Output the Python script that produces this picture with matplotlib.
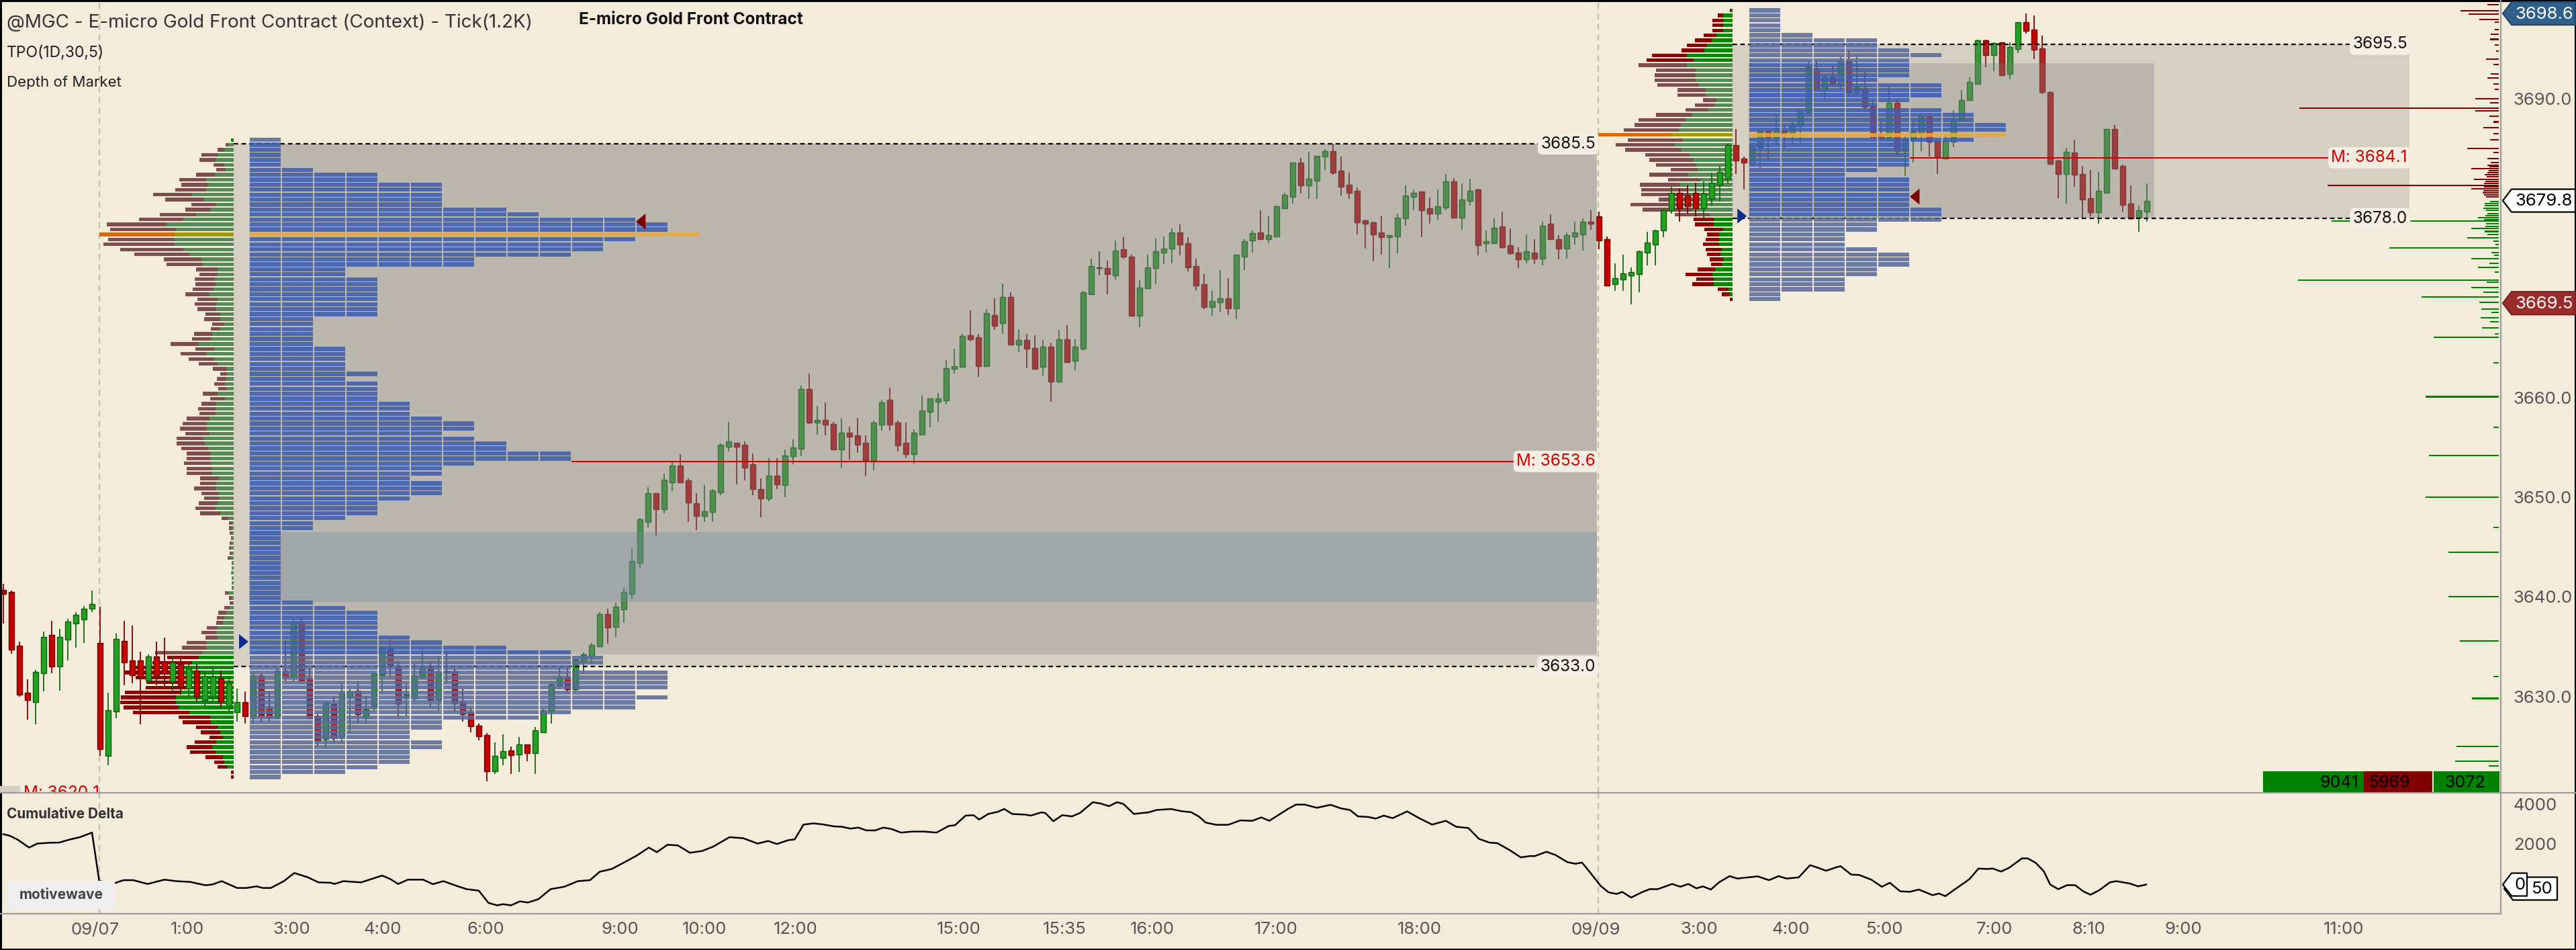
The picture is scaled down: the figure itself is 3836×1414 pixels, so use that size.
import numpy as np
import matplotlib
matplotlib.use("Agg")
import matplotlib.pyplot as plt
from matplotlib.patches import Rectangle, Polygon

plt.rcParams['font.family'] = ['Inter', 'DejaVu Sans']

# ======================= DATA =======================
opens = [3640.7, 3640.5, 3635.1, 3630.4, 3629.4, 3632.3, 3636.2, 3633.0, 3635.7, 3637.3,
         3637.7, 3638.8, 3635.4, 3624.0, 3628.5, 3635.6, 3633.6, 3633.6, 3631.6, 3634.0,
         3633.5, 3631.5, 3633.2, 3630.8, 3632.6, 3629.6, 3630.0, 3631.8, 3629.0, 3628.4,
         3629.4, 3628.0, 3632.1, 3628.9, 3627.9, 3632.6, 3631.9, 3637.4, 3631.8, 3628.0,
         3625.7, 3629.3, 3625.9, 3630.0, 3630.6, 3627.9, 3628.9, 3632.2, 3634.9, 3633.1,
         3629.9, 3629.8, 3631.9, 3633.1, 3629.6, 3632.5, 3632.5, 3629.5, 3628.4, 3627.1,
         3626.1, 3622.5, 3623.8, 3624.6, 3624.2, 3625.2, 3624.3, 3626.4, 3628.5, 3631.1,
         3631.9, 3630.7, 3633.5, 3634.0, 3635.0, 3638.3, 3637.0, 3638.75, 3640.3, 3643.4,
         3647.5, 3650.4, 3648.8, 3651.5, 3653.2, 3651.7, 3649.4, 3648.1, 3648.5, 3650.5,
         3655.1, 3655.5, 3655.3, 3653.3, 3650.8, 3649.9, 3652.2, 3651.2, 3654.1, 3654.85,
         3660.9, 3657.5, 3657.8, 3657.4, 3654.8, 3656.5, 3656.2, 3655.5, 3653.7, 3657.3,
         3659.8, 3657.5, 3655.5, 3654.3, 3656.3, 3658.6, 3659.6, 3659.7, 3662.9, 3663.1,
         3666.3, 3666.1, 3663.2, 3668.3, 3667.5, 3670.1, 3665.3, 3665.8, 3665.0, 3663.1,
         3665.1, 3661.6, 3665.9, 3663.7, 3664.9, 3670.4, 3673.1, 3673.0, 3672.3, 3674.9,
         3674.2, 3668.2, 3671.0, 3673.0, 3674.6, 3675.0, 3676.6, 3675.5, 3673.2, 3671.4,
         3669.1, 3669.6, 3670.0, 3669.0, 3674.2, 3675.8, 3676.6, 3675.9, 3676.2, 3679.0,
         3680.2, 3683.6, 3681.3, 3681.8, 3684.2, 3684.8, 3682.8, 3681.4, 3680.8, 3677.8,
         3677.6, 3676.6, 3676.1, 3676.2, 3678.0, 3680.2, 3680.7, 3679.0, 3678.5, 3679.1,
         3681.7, 3678.1, 3679.8, 3680.9, 3675.5, 3675.5, 3677.2, 3675.3, 3674.6, 3673.9,
         3674.6, 3674.0, 3677.5, 3675.9, 3675.0, 3676.2, 3676.4, 3677.7, 3678.2, 3675.9,
         3671.4, 3671.9, 3672.3, 3672.4, 3674.6, 3675.4, 3676.8, 3678.8, 3680.6, 3680.3,
         3680.6, 3679.0, 3680.0, 3681.4, 3682.0, 3685.4, 3684.05, 3683.5, 3685.2, 3686.7,
         3686.2, 3686.8, 3686.6, 3687.25, 3688.7, 3693.1, 3690.9, 3692.2, 3691.45, 3693.9,
         3690.7, 3691.1, 3689.3, 3686.5, 3686.2, 3689.6, 3684.8, 3686.0, 3686.5, 3688.3,
         3685.8, 3684.0, 3685.7, 3687.85, 3689.9, 3691.5, 3695.9, 3694.4, 3695.7, 3692.5,
         3695.05, 3697.7, 3697.0, 3695.1, 3690.7, 3683.8, 3682.5, 3684.6, 3682.5, 3680.05,
         3678.6, 3680.6, 3687.0, 3683.3, 3679.5, 3678.1, 3678.7]
highs = [3641.3, 3640.6, 3635.5, 3631.7, 3632.7, 3636.5, 3637.6, 3636.8, 3637.8, 3638.5,
         3639.1, 3640.6, 3639.0, 3630.4, 3636.3, 3637.6, 3637.1, 3634.5, 3634.2, 3635.5,
         3635.9, 3634.0, 3633.8, 3633.5, 3633.2, 3632.6, 3633.0, 3632.6, 3632.0, 3630.8,
         3630.5, 3632.5, 3632.3, 3630.6, 3632.9, 3635.6, 3637.9, 3637.9, 3632.9, 3628.2,
         3629.5, 3630.1, 3631.4, 3630.7, 3631.6, 3630.1, 3632.5, 3635.0, 3635.8, 3633.6,
         3631.3, 3633.5, 3634.8, 3633.6, 3634.1, 3634.6, 3632.8, 3630.8, 3628.9, 3627.3,
         3626.3, 3625.4, 3626.2, 3625.0, 3625.9, 3625.2, 3626.9, 3628.7, 3631.3, 3633.0,
         3633.0, 3633.9, 3634.4, 3635.4, 3638.5, 3638.8, 3639.4, 3640.9, 3644.9, 3647.9,
         3651.0, 3650.4, 3652.4, 3653.6, 3654.3, 3651.9, 3650.4, 3651.2, 3650.8, 3655.4,
         3657.6, 3655.5, 3655.6, 3654.4, 3651.9, 3653.9, 3653.9, 3654.8, 3655.8, 3661.2,
         3662.4, 3659.2, 3659.5, 3657.6, 3657.9, 3657.1, 3658.0, 3656.2, 3657.7, 3659.8,
         3661.0, 3657.7, 3657.5, 3656.8, 3660.2, 3659.9, 3660.5, 3663.8, 3664.9, 3666.4,
         3668.8, 3666.4, 3668.9, 3670.0, 3671.5, 3670.6, 3666.9, 3666.4, 3666.3, 3665.8,
         3665.5, 3666.8, 3667.3, 3665.9, 3670.7, 3674.0, 3674.7, 3673.8, 3675.8, 3676.1,
         3674.4, 3671.8, 3674.4, 3676.0, 3676.2, 3677.0, 3677.4, 3676.1, 3674.0, 3672.4,
         3670.7, 3672.8, 3672.0, 3674.4, 3675.9, 3676.8, 3678.8, 3678.3, 3679.3, 3680.6,
         3683.6, 3684.1, 3684.7, 3684.3, 3685.0, 3685.5, 3684.2, 3682.6, 3681.1, 3677.9,
         3677.7, 3678.3, 3676.3, 3678.5, 3681.3, 3680.9, 3680.7, 3680.1, 3680.9, 3682.5,
         3682.1, 3681.5, 3682.0, 3681.0, 3676.8, 3678.0, 3678.7, 3677.0, 3675.1, 3676.4,
         3675.9, 3677.7, 3678.4, 3676.3, 3676.6, 3677.7, 3678.0, 3678.8, 3678.7, 3676.2,
         3673.5, 3674.4, 3673.1, 3674.8, 3676.7, 3676.9, 3678.9, 3681.2, 3681.0, 3681.3,
         3681.6, 3681.7, 3682.6, 3683.3, 3685.6, 3687.0, 3684.2, 3685.6, 3687.0, 3686.9,
         3688.5, 3687.5, 3687.7, 3689.0, 3693.9, 3693.9, 3692.4, 3693.4, 3694.2, 3694.9,
         3694.2, 3692.9, 3689.9, 3687.7, 3691.4, 3690.0, 3686.3, 3687.7, 3688.6, 3688.6,
         3686.0, 3686.5, 3688.9, 3690.9, 3692.2, 3696.0, 3695.95, 3695.7, 3695.7, 3695.7,
         3697.7, 3698.6, 3698.4, 3696.4, 3690.8, 3683.9, 3685.1, 3685.9, 3683.3, 3682.9,
         3682.7, 3687.0, 3687.4, 3683.4, 3681.3, 3679.3, 3681.5]
lows = [3637.3, 3634.3, 3630.0, 3627.7, 3627.2, 3630.5, 3632.3, 3630.6, 3633.6, 3634.9,
        3635.4, 3638.5, 3624.0, 3623.1, 3627.8, 3631.1, 3631.3, 3627.2, 3631.3, 3631.1,
        3631.0, 3630.5, 3630.2, 3630.0, 3629.5, 3629.0, 3629.5, 3628.8, 3628.5, 3627.5,
        3627.3, 3627.2, 3627.4, 3627.5, 3627.7, 3631.6, 3631.6, 3631.3, 3627.7, 3625.0,
        3624.7, 3625.3, 3625.3, 3626.4, 3627.3, 3627.2, 3628.6, 3630.3, 3631.9, 3627.7,
        3628.0, 3629.5, 3631.8, 3628.9, 3628.6, 3631.4, 3628.4, 3627.5, 3626.4, 3625.6,
        3621.5, 3622.2, 3623.1, 3622.2, 3622.4, 3623.5, 3622.2, 3626.3, 3627.3, 3630.8,
        3630.4, 3630.5, 3632.3, 3633.2, 3635.0, 3635.3, 3636.0, 3637.4, 3639.8, 3642.9,
        3647.0, 3646.1, 3648.4, 3650.6, 3651.5, 3647.5, 3646.7, 3647.5, 3647.6, 3650.2,
        3654.6, 3651.3, 3651.7, 3650.2, 3648.0, 3649.6, 3650.8, 3650.0, 3653.3, 3654.1,
        3657.4, 3656.3, 3656.2, 3654.8, 3652.9, 3653.8, 3654.5, 3652.1, 3652.7, 3656.7,
        3656.7, 3654.6, 3653.9, 3653.4, 3656.3, 3657.0, 3657.6, 3659.3, 3662.4, 3663.1,
        3665.7, 3662.1, 3663.2, 3666.8, 3666.4, 3665.3, 3664.6, 3663.0, 3662.9, 3662.2,
        3659.6, 3661.5, 3663.6, 3662.8, 3664.7, 3670.4, 3672.3, 3670.4, 3671.9, 3674.0,
        3668.2, 3667.1, 3671.0, 3671.4, 3673.4, 3673.5, 3674.3, 3672.7, 3670.8, 3668.9,
        3668.2, 3668.6, 3668.3, 3667.9, 3672.8, 3674.6, 3675.9, 3675.5, 3676.2, 3679.0,
        3679.5, 3680.5, 3680.0, 3680.0, 3682.9, 3682.4, 3680.3, 3680.0, 3676.4, 3675.0,
        3673.7, 3674.4, 3673.0, 3674.5, 3677.3, 3678.8, 3676.1, 3677.5, 3677.9, 3678.8,
        3678.1, 3676.9, 3679.3, 3674.3, 3674.6, 3675.5, 3675.0, 3674.4, 3673.0, 3673.5,
        3673.4, 3673.3, 3675.9, 3673.9, 3674.0, 3675.4, 3674.8, 3676.9, 3674.9, 3671.2,
        3670.7, 3670.7, 3669.4, 3670.6, 3673.3, 3673.3, 3676.1, 3678.5, 3677.7, 3678.5,
        3678.2, 3678.0, 3679.3, 3679.7, 3681.5, 3682.5, 3680.9, 3683.2, 3683.1, 3683.8,
        3685.3, 3685.1, 3685.4, 3685.6, 3688.7, 3690.9, 3690.05, 3691.4, 3691.0, 3690.3,
        3690.4, 3688.8, 3686.2, 3685.9, 3686.0, 3684.2, 3682.3, 3683.6, 3684.8, 3684.2,
        3682.5, 3684.0, 3685.2, 3687.8, 3689.8, 3691.5, 3693.2, 3692.8, 3692.3, 3692.0,
        3694.6, 3696.6, 3694.0, 3690.5, 3683.4, 3680.05, 3679.5, 3681.2, 3678.1, 3678.2,
        3677.5, 3680.5, 3683.0, 3678.7, 3677.9, 3676.7, 3677.7]
closes = [3640.3, 3634.7, 3630.2, 3629.6, 3632.5, 3636.0, 3633.0, 3636.0, 3637.5, 3638.2,
          3638.8, 3639.3, 3624.7, 3628.6, 3635.8, 3633.4, 3632.1, 3632.0, 3634.0, 3632.1,
          3632.3, 3633.4, 3631.0, 3632.8, 3630.0, 3632.0, 3632.0, 3629.5, 3631.3, 3629.4,
          3628.0, 3632.1, 3628.0, 3627.9, 3632.6, 3631.9, 3637.4, 3631.6, 3627.8, 3625.6,
          3629.4, 3625.8, 3630.4, 3630.5, 3628.2, 3628.7, 3632.3, 3634.9, 3633.1, 3629.2,
          3630.2, 3632.1, 3633.1, 3629.6, 3632.5, 3632.4, 3629.3, 3628.2, 3627.0, 3626.0,
          3622.5, 3624.0, 3624.5, 3624.1, 3625.2, 3624.3, 3626.6, 3628.6, 3631.2, 3631.9,
          3630.7, 3633.7, 3634.2, 3635.2, 3638.3, 3636.9, 3639.0, 3640.5, 3643.6, 3647.8,
          3650.4, 3648.8, 3651.8, 3653.2, 3651.5, 3649.5, 3648.1, 3648.6, 3650.7, 3655.3,
          3655.6, 3655.1, 3653.0, 3650.8, 3649.9, 3652.2, 3651.3, 3654.2, 3655.0, 3660.9,
          3657.5, 3657.8, 3657.3, 3654.8, 3656.5, 3656.1, 3655.3, 3653.7, 3657.5, 3659.5,
          3657.3, 3655.2, 3654.3, 3656.5, 3658.7, 3659.9, 3659.9, 3663.0, 3663.2, 3666.2,
          3665.9, 3663.2, 3668.5, 3667.2, 3670.1, 3665.3, 3665.8, 3664.9, 3662.9, 3665.1,
          3661.6, 3665.9, 3663.6, 3665.1, 3670.6, 3673.2, 3673.0, 3672.4, 3674.8, 3674.15,
          3668.2, 3671.1, 3673.1, 3674.7, 3675.0, 3676.6, 3675.4, 3673.1, 3671.3, 3669.1,
          3669.7, 3670.0, 3669.0, 3674.4, 3675.7, 3676.5, 3675.9, 3676.3, 3679.2, 3680.4,
          3683.6, 3681.3, 3682.0, 3684.3, 3684.8, 3682.6, 3681.2, 3680.6, 3677.6, 3677.5,
          3676.4, 3676.1, 3676.3, 3678.1, 3680.3, 3680.6, 3678.8, 3678.5, 3679.2, 3681.7,
          3678.1, 3679.9, 3680.8, 3675.3, 3675.7, 3677.1, 3675.1, 3674.5, 3673.9, 3674.7,
          3674.0, 3677.3, 3675.9, 3675.0, 3676.3, 3676.6, 3677.7, 3677.5, 3675.8, 3671.3,
          3672.0, 3672.5, 3672.6, 3674.7, 3675.6, 3676.8, 3678.8, 3680.6, 3679.0, 3679.2,
          3679.0, 3680.5, 3681.6, 3682.7, 3685.4, 3683.8, 3683.6, 3685.3, 3686.7, 3686.2,
          3686.8, 3686.6, 3687.4, 3688.8, 3693.2, 3690.9, 3692.2, 3691.45, 3693.9, 3690.7,
          3691.2, 3689.2, 3686.2, 3686.1, 3689.6, 3684.8, 3686.0, 3686.7, 3688.3, 3685.7,
          3684.2, 3685.8, 3688.0, 3689.9, 3691.7, 3695.9, 3694.4, 3695.6, 3692.4, 3695.2,
          3697.7, 3696.85, 3694.96, 3690.7, 3683.5, 3682.5, 3684.7, 3682.4, 3679.9, 3678.6,
          3680.8, 3687.0, 3683.0, 3679.4, 3678.0, 3678.8, 3679.8]
doji_bars = [55, 136]

# session 1 (09/07) profile rows, from the top row downwards, one row per 0.5
s1_top_row = 3685.9
s1_tpo = [1, 1, 1, 1, 1, 1, 2, 4, 4, 6, 6, 6, 6, 6, 8, 9, 12, 13, 13, 14,
          12, 11, 11, 10, 7, 7, 3, 3, 4, 4, 4, 4, 4,
          4, 4, 4, 2, 2, 2, 2, 2, 2, 3, 3, 3, 3, 3, 4, 3, 4, 4, 4, 4,
          5, 5, 5, 6, 7, 7, 6, 7, 8, 8, 10, 10, 7, 6, 6, 5, 6, 6, 6, 5,
          4, 4, 4, 3, 2, 2, 1, 1, 1, 1,
          1, 1, 1, 1, 1, 1, 1, 1, 1, 1, 2, 3, 4, 4, 4, 4, 4, 5, 6, 8,
          10, 11, 11, 10, 13, 13, 13, 13, 12, 13, 12, 12, 10, 9, 6, 6, 5, 5, 6, 6,
          5, 5, 5, 4, 3, 1]
s1_ask_vol = [4, 8, 14, 24, 27, 14, 12, 28, 41, 38, 41, 62, 44, 27, 34, 56, 75, 100, 86, 88,
              88, 88, 75, 66, 48, 46, 24, 24, 28, 27, 30, 36, 24,
              26, 26, 20, 20, 14, 20, 32, 34, 52, 29, 41, 29, 24, 11, 10, 11, 13, 11, 24, 13,
              26, 27, 27, 36, 40, 40, 36, 45, 43, 38, 34, 34, 34, 32, 32, 22, 26, 27, 22, 22,
              24, 27, 20, 8, 3, 3, 3, 3, 3, 4,
              3, 4, 3, 3, 4, 3, 3, 3, 8, 3, 1, 6, 11, 14, 16, 24, 26, 24, 40, 41,
              47, 52, 62, 78, 84, 71, 64, 67, 78, 86, 86, 82, 66, 35, 34, 24, 20, 16, 26, 32,
              27, 16, 14, 10, 0, 0]
s1_bid_vol = [0, 4, 10, 24, 24, 16, 14, 28, 40, 40, 46, 58, 58, 36, 38, 54, 66, 89, 98, 112,
              99, 106, 94, 82, 56, 54, 32, 27, 30, 30, 31, 36, 30,
              32, 28, 22, 24, 18, 14, 27, 28, 42, 28, 38, 38, 28, 20, 10, 14, 16, 12, 22, 22,
              22, 26, 24, 34, 36, 40, 36, 40, 42, 40, 36, 36, 40, 38, 38, 28, 24, 32, 26, 22,
              28, 30, 30, 10, 4, 4, 3, 1, 3, 3,
              3, 5, 0, 0, 0, 0, 0, 0, 5, 4, 5, 8, 12, 11, 10, 16, 22, 18, 30, 36,
              70, 47, 59, 71, 78, 75, 66, 64, 84, 82, 83, 82, 84, 47, 42, 32, 29, 20, 32, 38,
              38, 26, 15, 14, 4, 4]

# session 2 (09/09) profile rows
s2_top_row = 3698.9
s2_tpo = [1, 1, 1, 1, 1, 2, 4, 4, 5, 6, 5, 5, 5, 5, 4, 6, 6, 6, 5, 4,
          6, 7, 7, 8, 8, 8, 7, 5, 5, 5, 5, 5, 4, 3, 5, 5, 5, 5, 5, 5,
          6, 6, 6, 4, 4, 3, 3, 3, 4, 5, 5, 5, 4, 4, 3, 3, 3, 1, 1]
s2_ask_vol = [2, 14, 14, 14, 14, 24, 31, 38, 42, 68, 58, 68, 55, 55, 55, 50, 40, 40, 24, 26,
              36, 60, 70, 77, 80, 90, 74, 86, 76, 64, 58, 54, 52, 66, 48, 78, 66, 62, 50, 74,
              60, 34, 28, 28, 14, 20, 20, 20, 16, 18, 14, 16, 26, 30, 28, 28, 6, 4, 0]
s2_bid_vol = [2, 8, 16, 16, 16, 19, 25, 30, 34, 52, 70, 72, 59, 61, 61, 62, 42, 42, 20, 30,
              34, 54, 70, 69, 82, 110, 82, 88, 84, 66, 66, 60, 40, 58, 48, 60, 70, 74, 60, 78,
              74, 52, 30, 28, 28, 18, 20, 24, 24, 20, 20, 16, 26, 40, 26, 32, 16, 12, 4]

# value areas / levels
s1_value_area = (3634.2, 3685.5)
s2_value_area = (3678.1, 3693.6)
s1_band = (3639.5, 3646.5)
s1_range_lines = (3685.5, 3633.0)
s2_range_lines = (3695.5, 3678.0)
s1_mid = 3653.6
s2_mid = 3684.1
s1_open_mark, s1_close_mark = 3635.5, 3677.7
s2_open_mark, s2_close_mark = 3678.25, 3680.2
session_breaks = [11.95, 197.9]

# depth of market (price, size)
dom_asks = [(3699.9, 191), (3699.5, 17), (3698.9, 57), (3698.55, 45), (3698.0, 29), (3697.7, 6),
            (3697.0, 6), (3696.5, 12), (3696.0, 13), (3695.45, 6), (3694.8, 4), (3694.0, 19),
            (3693.45, 8), (3692.5, 12), (3692.1, 17), (3691.5, 8), (3691.0, 6), (3690.05, 35),
            (3689.65, 13), (3689.1, 297), (3688.8, 35), (3688.25, 14), (3687.7, 8), (3687.1, 23),
            (3686.5, 8), (3685.9, 13), (3685.05, 47), (3684.65, 8), (3684.0, 17), (3683.6, 12),
            (3683.35, 17), (3683.2, 14), (3683.0, 41), (3682.8, 15), (3682.6, 17), (3682.4, 21),
            (3682.2, 18), (3681.95, 37), (3681.7, 20), (3681.5, 22), (3681.3, 255), (3681.2, 22),
            (3681.0, 41), (3680.8, 23), (3680.6, 24), (3680.4, 22), (3680.2, 19)]
dom_bids = [(3679.7, 13), (3679.5, 21), (3679.3, 21), (3679.0, 23), (3678.8, 19), (3678.5, 17),
            (3678.3, 20), (3678.1, 31), (3677.9, 22), (3677.75, 249), (3677.5, 19), (3677.2, 20),
            (3677.0, 41), (3676.7, 21), (3676.4, 17), (3676.05, 47), (3675.7, 8), (3675.4, 5),
            (3675.05, 163), (3674.6, 11), (3674.3, 7), (3673.95, 41), (3673.5, 14), (3673.1, 31),
            (3672.6, 6), (3671.8, 299), (3671.6, 18), (3671.05, 41), (3670.6, 23), (3670.1, 115),
            (3669.6, 29), (3668.9, 26), (3668.6, 11), (3668.05, 27), (3667.6, 13), (3667.0, 25),
            (3666.4, 6), (3666.1, 97), (3663.5, 8), (3660.1, 109), (3657.0, 8), (3654.2, 104),
            (3650.0, 109), (3647.0, 8), (3644.5, 75), (3640.0, 75), (3635.6, 58), (3632.0, 8),
            (3629.8, 40), (3625.0, 63), (3623.5, 65), (3623.0, 15)]

# cumulative delta (bar position, value)
delta_curve = [(0, 2500), (0.8, 2420), (1.8, 2220), (3.2, 1830), (4.2, 2030), (5.7, 2070),
    (6.9, 2080), (8.3, 2240), (9.5, 2350), (11.0, 2580), (11.9, 150), (13.9, 60), (14.9, 200),
    (16.1, 200), (17.9, 10), (20.0, 225), (21.5, 150), (23.2, 110), (25.1, -55), (25.9, -20),
    (27.1, 150), (29.0, -190), (30.2, -190), (31.4, -110), (32.2, -190), (33.2, -190),
    (34.8, 150), (36.1, 560), (37.8, 340), (39.1, 90), (40.6, 70), (41.1, 10), (42.2, 150),
    (43.2, 120), (44.4, 90), (45.7, 260), (47.0, 430), (48.0, 260), (49.0, 10), (50.2, 225),
    (52.1, 225), (53.3, 0), (54.6, 150), (56.2, -80), (57.5, -250), (59.0, -325), (60.2, -940),
    (61.3, -1060), (62.0, -1000), (63.0, -1060), (64.1, -860), (65.1, -920), (66.4, -750),
    (67.9, -250), (69.6, -130), (71.3, 150), (72.8, 200), (74.0, 620), (75.5, 760),
    (77.1, 1100), (78.6, 1430), (80.1, 1830), (81.1, 1600), (82.4, 1970), (83.7, 1940),
    (85.2, 1570), (86.7, 1660), (88.1, 1880), (90.1, 2350), (91.8, 2300), (93.6, 2030),
    (94.9, 2160), (96.0, 2010), (97.4, 2200), (98.2, 2240), (99.3, 2980), (100.5, 3040),
    (101.5, 3000), (103.1, 2890), (104.1, 2870), (105.1, 2780), (106.1, 2830), (107.1, 2690),
    (108.2, 2690), (109.2, 2830), (110.2, 2760), (111.4, 2580), (112.7, 2630), (114.3, 2630),
    (115.8, 2580), (117.3, 2910), (118.1, 2950), (119.4, 3430), (120.4, 3450), (121.1, 3230),
    (122.2, 3510), (123.4, 3620), (124.2, 3760), (125.2, 3510), (126.8, 3480), (127.5, 3430),
    (128.8, 3590), (129.3, 3560), (130.3, 3150), (131.4, 3450), (132.6, 3390), (133.6, 3560),
    (135.2, 4100), (136.2, 4030), (137.2, 3900), (138.2, 4100), (139.0, 4010), (140.3, 3510),
    (141.3, 3560), (142.1, 3590), (143.1, 3710), (144.9, 3760), (146.2, 3650), (147.4, 3600),
    (148.4, 3370), (149.2, 3080), (150.5, 2970), (152.0, 2970), (153.5, 3190), (155.0, 3170),
    (156.1, 3340), (157.1, 3170), (159.4, 3760), (160.4, 3980), (161.5, 3980), (163.0, 3820),
    (164.7, 3970), (166.0, 3790), (167.1, 3710), (168.1, 3390), (169.4, 3360), (170.3, 3280),
    (171.3, 3430), (172.4, 3300), (174.2, 3640), (175.7, 3300), (177.3, 2980), (179.0, 3170),
    (180.3, 2870), (181.8, 2810), (183.1, 2270), (184.4, 2080), (185.4, 2050), (186.9, 1710),
    (188.3, 1340), (189.5, 1410), (190.0, 1400), (191.5, 1620), (192.6, 1460), (194.1, 1100),
    (195.1, 1020), (195.9, 1080), (196.9, 590), (198.2, -80), (199.2, -410), (200.2, -490),
    (200.9, -390), (202.0, -670), (203.3, -410), (204.3, -250), (205.3, -250), (207.1, 10),
    (208.1, -130), (209.1, 10), (210.1, -210), (210.9, -110), (211.9, -270), (212.9, 90),
    (214.2, 400), (215.2, 280), (216.5, 340), (217.7, 390), (219.1, 200), (220.3, 400),
    (221.3, 280), (222.8, 340), (224.2, 950), (225.2, 820), (226.2, 670), (227.5, 850),
    (228.0, 900), (229.3, 480), (230.3, 460), (231.8, 225), (233.1, -130), (234.1, 70),
    (235.4, -360), (236.6, -380), (237.7, -270), (239.4, -550), (240.2, -470), (241.0, -600),
    (242.2, -250), (243.5, 110), (244.0, 260), (245.1, 780), (246.1, 760), (246.9, 780),
    (247.9, 630), (248.9, 820), (250.5, 1290), (251.2, 1290), (252.2, 1070), (253.2, 650),
    (254.0, -20), (255.0, -250), (256.1, -50), (257.1, -50), (258.1, -360), (259.0, -530),
    (260.1, -300), (261.4, 90), (262.2, 150), (263.9, 30), (264.9, -110), (265.9, -20)]

time_tick_pos = [11.4, 22.8, 35.8, 47.1, 59.9, 76.5, 87.0, 98.3, 118.6, 131.7, 142.6,
                 157.9, 175.7, 197.6, 210.4, 221.8, 233.5, 247.1, 258.8, 270.5, 290.4]
time_tick_labels = ['09/07', '1:00', '3:00', '4:00', '6:00', '9:00', '10:00', '12:00',
                    '15:00', '15:35', '16:00', '17:00', '18:00', '09/09', '3:00', '4:00',
                    '5:00', '7:00', '8:10', '9:00', '11:00']
price_ticks = [3630, 3640, 3650, 3660, 3690]
delta_ticks = [2000, 4000]
last_price, session_high, session_low = 3679.8, 3698.6, 3669.5
delta_tag_texts = ['0', '50']
footprint_totals = [9041, 5969, 3072]

# ======================= LAYOUT =======================
W, H = 3836, 1414
DPI = 100
BG = '#f4ecda'
def px2i(px):           # horizontal pixel -> bar position
    return (px - 5) / 12.0

fig = plt.figure(figsize=(W / DPI, H / DPI), dpi=DPI)
fig.patch.set_facecolor(BG)

def axes_px(x0, y0, x1, y1):
    return [x0 / W, 1 - y1 / H, (x1 - x0) / W, (y1 - y0) / H]

ax = fig.add_axes(axes_px(0, 0, 3724, 1180))
axd = fig.add_axes(axes_px(0, 1180, 3724, 1360))
for a in (ax, axd):
    a.set_facecolor(BG)
    a.set_xlim(px2i(0), px2i(3724))
    for s in a.spines.values():
        s.set_visible(False)
ax.set_ylim(3620.32, 3699.95)
axd.set_ylim(-1479, 4571)

# session separators
for a in (ax, axd):
    for b in session_breaks:
        a.axvline(b, color='#c6bfb3', lw=1.6, ls=(0, (4, 3)), zorder=0.5)

# ---------- candles ----------
o = np.array(opens); h = np.array(highs); l = np.array(lows); c = np.array(closes)
xs = np.arange(len(o))
fill, edge, wick = [], [], []
for i in xs:
    if i in doji_bars:
        fill.append('#2b2b2b'); edge.append('#1a1a1a'); wick.append('#2b2b2b')
    elif c[i] >= o[i]:
        fill.append('#21a321'); edge.append('#0d5e0d'); wick.append('#0f6a0f')
    else:
        fill.append('#c60000'); edge.append('#6e0000'); wick.append('#7a0000')
ax.vlines(xs, l, h, colors=wick, lw=1.3, zorder=2)
body_lo = np.minimum(o, c)
body_h = np.maximum(np.abs(c - o), 0.12)
ax.bar(xs, body_h, bottom=body_lo, width=0.66, color=fill, edgecolor=edge, linewidth=1.0, zorder=2.1)

# ---------- session boxes (semi transparent overlays) ----------
def shade(x0, x1, y0, y1, color, alpha, z=3):
    ax.add_patch(Rectangle((x0, y0), x1 - x0, y1 - y0, facecolor=color, alpha=alpha, lw=0, zorder=z))

S1_VOL_R, S1_TPO_X = px2i(348), px2i(371)
S2_VOL_R, S2_TPO_X = px2i(2580), px2i(2604)
S1_END = px2i(2378)
S2_VA_END, S2_BOX_END = px2i(3208), px2i(3588)
COL = 4.0

shade(S1_VOL_R, S1_END, s1_range_lines[1], s1_range_lines[0], '#808080', 0.26)
shade(S1_TPO_X, S1_END, s1_value_area[0], s1_value_area[1], '#808080', 0.30)
shade(S1_TPO_X, S1_END, s1_band[0], s1_band[1], '#6f8a9f', 0.35)
shade(S2_VOL_R, S2_BOX_END, s2_range_lines[1], s2_range_lines[0], '#808080', 0.26)
shade(S2_TPO_X, S2_VA_END, s2_value_area[0], s2_value_area[1], '#808080', 0.30)

# ---------- TPO and volume profiles ----------
def profile(top, tpo, ask, bid, x_tpo, x_vol_r, va):
    tot = np.array(ask) + np.array(bid)
    poc = int(np.argmax(tot))
    for k, n in enumerate(tpo):
        y = top - 0.5 * k
        inside = va[0] <= y <= va[1] + 0.15
        if k == poc:
            col = '#e9a93c'
        elif inside:
            col = '#3f5fae'
        else:
            col = '#5a6b9c'
        for j in range(n):
            ax.add_patch(Rectangle((x_tpo + COL * j + 0.1, y - 0.21), COL - 0.2, 0.42,
                                   facecolor=col, alpha=0.88, lw=0, zorder=4))
        g, r = ask[k] / 12.0, bid[k] / 12.0
        if k == poc:
            cg, cr = '#a39a00', '#d46a08'
        elif inside:
            cg, cr = '#568a56', '#7e4e4e'
        else:
            cg, cr = '#008a00', '#8b0000'
        if g > 0:
            ax.add_patch(Rectangle((x_vol_r - g, y - 0.18), g, 0.36, facecolor=cg, lw=0, zorder=1.5))
        if r > 0:
            ax.add_patch(Rectangle((x_vol_r - g - r, y - 0.18), r, 0.36, facecolor=cr, lw=0, zorder=1.5))
    return poc

profile(s1_top_row, s1_tpo, s1_ask_vol, s1_bid_vol, S1_TPO_X, S1_VOL_R, s1_value_area)
profile(s2_top_row, s2_tpo, s2_ask_vol, s2_bid_vol, S2_TPO_X, S2_VOL_R, s2_value_area)

def tpo_end(top, tpo, x_tpo, price, mode='max'):
    k = (top - price) / 0.5
    if mode == 'max':
        n = max(tpo[int(np.floor(k))], tpo[int(np.ceil(k))])
    else:
        n = tpo[int(round(k))]
    return x_tpo + COL * n

# open / close markers
def open_mark(x_tip, y):
    ax.add_patch(Polygon([(x_tip - 1.15, y + 0.75), (x_tip, y), (x_tip - 1.15, y - 0.75)],
                         closed=True, facecolor='#0a2a8c', lw=0, zorder=5))
def close_mark(x_tip, y):
    ax.add_patch(Polygon([(x_tip + 1.2, y + 0.8), (x_tip, y), (x_tip + 1.2, y - 0.8)],
                         closed=True, facecolor='#7c0000', lw=0, zorder=5))
open_mark(S1_TPO_X - 0.1, s1_open_mark)
open_mark(S2_TPO_X - 0.25, s2_open_mark)
close_mark(tpo_end(s1_top_row, s1_tpo, S1_TPO_X, s1_close_mark, 'near'), s1_close_mark)
close_mark(tpo_end(s2_top_row, s2_tpo, S2_TPO_X, s2_close_mark, 'near'), s2_close_mark)

# ---------- level lines & labels ----------
LBL_BG = dict(boxstyle='round,pad=0.18,rounding_size=0.3', fc='#f3ede2', ec='none')
LBL_FS = 17.5
dash = (0, (3, 2.2))
ax.hlines(s1_range_lines[0], S1_VOL_R, px2i(2296), colors='black', lw=1.6, linestyles=dash, zorder=3.5)
ax.hlines(s1_range_lines[1], S1_VOL_R, px2i(2290), colors='black', lw=1.6, linestyles=dash, zorder=3.5)
ax.hlines(s2_range_lines[0], S2_VOL_R, px2i(3502), colors='black', lw=1.6, linestyles=dash, zorder=3.5)
ax.hlines(s2_range_lines[1], S2_VOL_R, px2i(3500), colors='black', lw=1.6, linestyles=dash, zorder=3.5)
for v, xr in ((s1_range_lines[0], px2i(2376)), (s1_range_lines[1], px2i(2376)),
              (s2_range_lines[0], px2i(3585)), (s2_range_lines[1], px2i(3585))):
    ax.text(xr, v, f'{v:.1f}', ha='right', va='center', fontsize=LBL_FS, color='#111111',
            bbox=LBL_BG, zorder=6)

ax.hlines(s1_mid, tpo_end(s1_top_row, s1_tpo, S1_TPO_X, s1_mid), px2i(2255), colors='#d40000', lw=1.5, zorder=5)
ax.text(px2i(2376), s1_mid, f'M: {s1_mid:.1f}', ha='right', va='center', fontsize=LBL_FS,
        color='#d40000', bbox=LBL_BG, zorder=6)
ax.hlines(s2_mid, tpo_end(s2_top_row, s2_tpo, S2_TPO_X, s2_mid), px2i(3468), colors='#d40000', lw=1.5, zorder=5)
ax.text(px2i(3585), s2_mid, f'M: {s2_mid:.1f}', ha='right', va='center', fontsize=LBL_FS,
        color='#d40000', bbox=LBL_BG, zorder=6)

# partially hidden label of previous session at the bottom
ax.text(px2i(35), 3619.85, 'M: 3620.1', ha='left', va='baseline', fontsize=LBL_FS,
        color='#d40000', clip_on=True, zorder=6)

# ---------- depth of market ----------
DOM_R = px2i(3721)
for p, s in dom_asks:
    w = s / 12.0
    ax.add_patch(Rectangle((DOM_R - w, p - 0.07), w, 0.14, facecolor='#7d0000', lw=0, zorder=5))
for p, s in dom_bids:
    w = s / 12.0
    ax.add_patch(Rectangle((DOM_R - w, p - 0.07), w, 0.14, facecolor='#008000', lw=0, zorder=5))

# ---------- price axis ----------
AX_FS = 18.5
ax.yaxis.tick_right()
ax.set_yticks(price_ticks)
ax.set_yticklabels([f'{t:.1f}' for t in price_ticks])
ax.tick_params(axis='y', length=0, pad=13.5, labelsize=AX_FS, labelcolor='#555555')
ax.set_xticks([])

# ---------- cumulative delta ----------
dx = [p[0] for p in delta_curve]
dv = [p[1] for p in delta_curve]
axd.plot(dx, dv, color='black', lw=1.8, zorder=3)
axd.yaxis.tick_right()
axd.set_yticks(delta_ticks)
axd.set_yticklabels([str(t) for t in delta_ticks])
axd.tick_params(axis='y', length=0, pad=13.5, labelsize=AX_FS, labelcolor='#555555')
axd.set_xticks(time_tick_pos)
axd.set_xticklabels(time_tick_labels)
axd.tick_params(axis='x', length=0, pad=9, labelsize=AX_FS, labelcolor='#555555')

# ======================= OVERLAY (frame, titles, tags) =======================
ov = fig.add_axes([0, 0, 1, 1])
ov.set_xlim(0, W); ov.set_ylim(H, 0); ov.axis('off'); ov.set_zorder(10)
ov.patch.set_alpha(0)

def py(a, v):
    return H - a.transData.transform((0, v))[1]

GRAY = '#9b9b9b'
ov.plot([3724, 3724], [0, 1360], color=GRAY, lw=1.6)
ov.plot([0, W], [1180, 1180], color=GRAY, lw=1.6)
ov.plot([0, 3724], [1360, 1360], color=GRAY, lw=1.6)
ov.add_patch(Rectangle((1, 1), W - 2, H - 2, fill=False, ec='black', lw=2.2))

ov.text(10, 34, '@MGC - E-micro Gold Front Contract (Context) - Tick(1.2K)', fontsize=20,
        color='#333333', va='center', ha='left')
ov.text(862, 29, 'E-micro Gold Front Contract', fontsize=17.5, fontweight='bold',
        color='#111111', va='center', ha='left')
ov.text(10, 79, 'TPO(1D,30,5)', fontsize=16.5, color='#222222', va='center', ha='left')
ov.text(10, 123, 'Depth of Market', fontsize=16, color='#222222', va='center', ha='left')
ov.text(10, 1212, 'Cumulative Delta', fontsize=15, fontweight='bold', color='#333333',
        va='center', ha='left')
ov.add_patch(Rectangle((12, 1311), 159, 42, facecolor='#efefef', lw=0))
ov.text(91, 1332, 'motivewave', fontsize=15, fontweight='bold', color='#444444',
        va='center', ha='center')
ov.add_patch(Rectangle((0, 1170), 30, 10, facecolor='#d6d0c4', lw=0))

def tag(yc, text, face, edgec, tcolor, x0=3727, x1=3835, hh=17, fs=18.5, tx=None, ha='center'):
    ov.add_patch(Polygon([(x0, yc), (x0 + 13, yc - hh), (x1, yc - hh), (x1, yc + hh),
                          (x0 + 13, yc + hh)], closed=True, facecolor=face, edgecolor=edgec,
                         lw=1.6, joinstyle='round'))
    if tx is None:
        tx = (x0 + 13 + x1) / 2 + 1
    ov.text(tx, yc + 1, text, ha=ha, va='center', fontsize=fs, color=tcolor)

tag(py(ax, session_high), f'{session_high:.1f}', '#2f5f8b', '#25496b', 'white')
tag(py(ax, last_price), f'{last_price:.1f}', 'white', 'black', 'black')
tag(py(ax, session_low), f'{session_low:.1f}', '#9c2b2b', '#7a2020', 'white')

# delta tags (back one partly hidden by the front one)
y0 = py(axd, dv[-1])
tag(y0 + 6, delta_tag_texts[1], 'white', 'black', 'black', x0=3729, x1=3808, tx=3802, ha='right')
tag(y0, delta_tag_texts[0], 'white', 'black', 'black', x0=3727, x1=3763)

# footprint totals
boxes = [(3370, 3520, '#008000', 'right', 3512), (3520, 3622, '#800000', 'left', 3527),
         (3624, 3722, '#008000', 'center', 3671)]
for (bx0, bx1, colr, ha, tx), val in zip(boxes, footprint_totals):
    ov.add_patch(Rectangle((bx0, 1148), bx1 - bx0, 31, facecolor=colr, lw=0))
    ov.text(tx, 1165, str(val), ha=ha, va='center', fontsize=18, color='black')

fig.savefig('out.png', dpi=DPI, facecolor=BG)
